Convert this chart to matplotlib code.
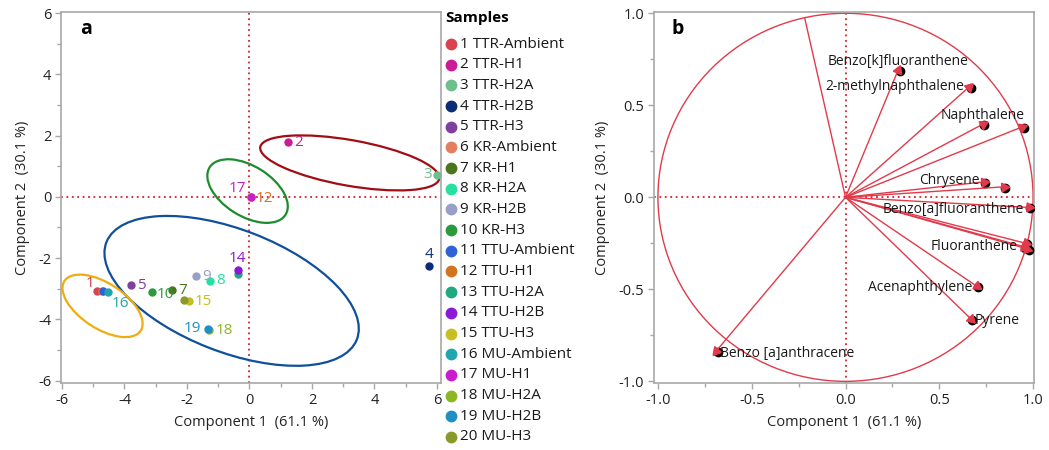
import matplotlib
matplotlib.use("Agg")
import numpy as np
import matplotlib.pyplot as plt
from matplotlib.patches import Ellipse, Circle
from matplotlib.ticker import MultipleLocator
from matplotlib.transforms import ScaledTranslation

plt.rcParams["font.family"] = ["Open Sans", "DejaVu Sans"]
plt.rcParams["axes.unicode_minus"] = False

# ---- Score plot (panel a) ----
sample_names = [
    "1 TTR-Ambient", "2 TTR-H1", "3 TTR-H2A", "4 TTR-H2B", "5 TTR-H3",
    "6 KR-Ambient", "7 KR-H1", "8 KR-H2A", "9 KR-H2B", "10 KR-H3",
    "11 TTU-Ambient", "12 TTU-H1", "13 TTU-H2A", "14 TTU-H2B", "15 TTU-H3",
    "16 MU-Ambient", "17 MU-H1", "18 MU-H2A", "19 MU-H2B", "20 MU-H3",
]
sample_colors = [
    "#d9434f", "#cc1a99", "#6dbf8c", "#0d2c78", "#7f3f9e",
    "#e0805e", "#4a7420", "#26e0a0", "#979fc8", "#2a9a3c",
    "#2f62d6", "#d4721f", "#20a87e", "#8b17d9", "#c9bd21",
    "#21a5ad", "#c81ecb", "#8db625", "#1f8fc4", "#8a9a2a",
]
score_pc1 = [-4.89, 1.24, 5.99, 5.74, -3.79, -4.72, -2.47, -1.26, -1.71, -3.13,
             -4.68, 0.05, -0.38, -0.38, -1.93, -4.52, 0.05, -1.28, -1.34, -2.10]
score_pc2 = [-3.09, 1.79, 0.72, -2.25, -2.89, -3.09, -3.05, -2.74, -2.60, -3.12,
             -3.09, 0.00, -2.51, -2.40, -3.41, -3.12, 0.00, -4.35, -4.31, -3.38]
score_labels = ["1", "2", "3", "4", "5", "", "7", "8", "9", "10",
                "", "12", "", "14", "15", "16", "17", "18", "19", ""]

# group ellipses: centre x, centre y, width, height, angle
ellipse_cx = [3.21, -0.06, -0.57, -4.70]
ellipse_cy = [1.11, 0.19, -3.07, -3.56]
ellipse_w = [5.82, 2.88, 8.62, 2.93]
ellipse_h = [1.49, 1.63, 3.99, 1.47]
ellipse_ang = [-10.3, -32.9, -21.8, -34.0]
ellipse_colors = ["#a00d12", "#1e8c2e", "#0f4f9c", "#f0ac10"]

# ---- Loading plot (panel b) ----
var_names = ["Benzo[k]fluoranthene", "2-methylnaphthalene", "Naphthalene", "",
             "Chrysene", "", "Benzo[a]fluoranthene", "Fluoranthene", "", "",
             "Acenaphthylene", "Pyrene", "Benzo [a]anthracene"]
load_pc1 = [0.28, 0.659, 0.733, 0.943, 0.737, 0.845, 0.977, 0.962, 0.968, 0.950,
            0.701, 0.668, -0.689]
load_pc2 = [0.69, 0.600, 0.398, 0.383, 0.084, 0.057, -0.055, -0.250, -0.280, -0.268,
            -0.484, -0.660, -0.835]
extra_pc1 = -0.218
extra_pc2 = 0.976

xlabel_txt = "Component 1  (61.1 %)"
ylabel_txt = "Component 2  (30.1 %)"

W, H = 1049, 450
fig = plt.figure(figsize=(W / 100, H / 100), dpi=100)


def px_box(l, t, r, b):
    return [l / W, 1 - b / H, (r - l) / W, (b - t) / H]


frame_col = "#a8a8a8"
tick_col = "#222222"
ref_red = "#d4202e"


def style_axes(ax, major, minor):
    for s in ax.spines.values():
        s.set_color(frame_col)
        s.set_linewidth(1.2)
    ax.xaxis.set_major_locator(MultipleLocator(major))
    ax.xaxis.set_minor_locator(MultipleLocator(minor))
    ax.yaxis.set_major_locator(MultipleLocator(major))
    ax.yaxis.set_minor_locator(MultipleLocator(minor))
    ax.tick_params(which="major", length=4, width=1, color=frame_col,
                   labelsize=10.5, labelcolor=tick_col, pad=3)
    ax.tick_params(which="minor", length=3, width=1, color=frame_col)
    ax.set_xlabel(xlabel_txt, fontsize=10.5, color=tick_col, labelpad=5)
    ax.set_ylabel(ylabel_txt, fontsize=10.5, color=tick_col, labelpad=6)
    ax.axhline(0, color=ref_red, lw=1.3, ls=(0, (1, 2)), zorder=1)
    ax.axvline(0, color=ref_red, lw=1.3, ls=(0, (1, 2)), zorder=1)


# panel a
axa = fig.add_axes(px_box(61, 12, 441, 383))
axa.set_xlim(-6.03, 6.13)
axa.set_ylim(-6.08, 6.04)
style_axes(axa, 2, 1)
axa.xaxis.set_major_formatter(plt.FuncFormatter(lambda v, p: f"{v:.0f}"))
axa.yaxis.set_major_formatter(plt.FuncFormatter(lambda v, p: f"{v:.0f}"))

for cx, cy, w, h, a, c in zip(ellipse_cx, ellipse_cy, ellipse_w, ellipse_h,
                              ellipse_ang, ellipse_colors):
    axa.add_patch(Ellipse((cx, cy), w, h, angle=a, fill=False, ec=c, lw=1.6, zorder=2))

# label placement: (dx px, dy px, ha, va)
label_place = {
    "1": (-7, 8, "center", "center"), "3": (-5, 0, "right", "center"),
    "4": (0, 4, "center", "bottom"), "14": (0, 4, "center", "bottom"),
    "16": (12, -11, "center", "center"), "17": (-5, 8, "right", "center"),
    "19": (-6, 0, "right", "center"), "10": (5, -2, "left", "center"),
    "12": (5, -2, "left", "center"),
}
for x, y, c, lab in zip(score_pc1, score_pc2, sample_colors, score_labels):
    axa.plot(x, y, "o", ms=5, color=c, mec=c, zorder=4)
    if lab:
        dx, dy, ha, va = label_place.get(lab, (6, 0, "left", "center"))
        axa.annotate(lab, (x, y), xytext=(dx, dy), textcoords="offset pixels",
                     ha=ha, va=va, color=c, fontsize=11, zorder=5)
axa.text(0.05, 0.982, "a", transform=axa.transAxes, fontsize=14,
         fontweight="bold", va="top", ha="left")

# panel b
axb = fig.add_axes(px_box(654, 12, 1034, 383))
axb.set_xlim(-1.021, 1.005)
axb.set_ylim(-1.009, 1.007)
style_axes(axb, 0.5, 0.25)
axb.xaxis.set_major_formatter(plt.FuncFormatter(lambda v, p: f"{v:.1f}"))
axb.yaxis.set_major_formatter(plt.FuncFormatter(lambda v, p: f"{v:.1f}"))

arrow_red = "#e23a4a"
axb.add_patch(Circle((0, 0), 1.0, fill=False, ec=arrow_red, lw=1.0, zorder=2))
axb.plot([0, extra_pc1], [0, extra_pc2], color=arrow_red, lw=1.0, zorder=2)
# black end dots sit slightly behind and below-right of the arrow tips
shadow = axb.transData + ScaledTranslation(1.5 / 100, -1.0 / 100, fig.dpi_scale_trans)
axb.plot(load_pc1, load_pc2, "o", ms=6, color="black", ls="none", zorder=3,
         transform=shadow)
origin_disp = axb.transData.transform((0, 0))
for x, y in zip(load_pc1, load_pc2):
    axb.plot([0, x], [0, y], color=arrow_red, lw=1.0, zorder=4)
    tip = axb.transData.transform((x, y))
    ang = np.degrees(np.arctan2(tip[1] - origin_disp[1], tip[0] - origin_disp[0]))
    axb.plot(x, y, marker=(3, 0, ang - 90), ms=7.5, color=arrow_red,
             mec=arrow_red, ls="none", zorder=5)

# variable label placement: (dx px, dy px, ha)
var_place = {
    "Benzo[k]fluoranthene": (0, 9, "center"),
    "2-methylnaphthalene": (-5, 0, "right"),
    "Naphthalene": (0, 9, "center"),
    "Chrysene": (-4, 1, "right"),
    "Benzo[a]fluoranthene": (-5, -2, "right"),
    "Fluoranthene": (-8, -3, "right"),
    "Acenaphthylene": (-5, -1, "right"),
    "Pyrene": (4, -2, "left"),
    "Benzo [a]anthracene": (4, -3, "left"),
}
for x, y, name in zip(load_pc1, load_pc2, var_names):
    if name:
        dx, dy, ha = var_place[name]
        axb.annotate(name, (x, y), xytext=(dx, dy), textcoords="offset pixels",
                     ha=ha, va="center", fontsize=10, color="#1a1a1a", zorder=6)
axb.text(0.047, 0.982, "b", transform=axb.transAxes, fontsize=14,
         fontweight="bold", va="top", ha="left")

# legend drawn in a pixel-space overlay
axl = fig.add_axes([0, 0, 1, 1], facecolor="none")
axl.set_xlim(0, W)
axl.set_ylim(H, 0)
axl.axis("off")
axl.text(445, 18, "Samples", fontsize=11, fontweight="bold", va="center", ha="left")
for i, (name, c) in enumerate(zip(sample_names, sample_colors)):
    yy = 44 + i * 20.68
    axl.plot(451, yy, "o", ms=7.5, color=c, mec=c)
    axl.text(460, yy, name, fontsize=11, va="center", ha="left", color="#1a1a1a")

fig.savefig("out.png", dpi=100)
